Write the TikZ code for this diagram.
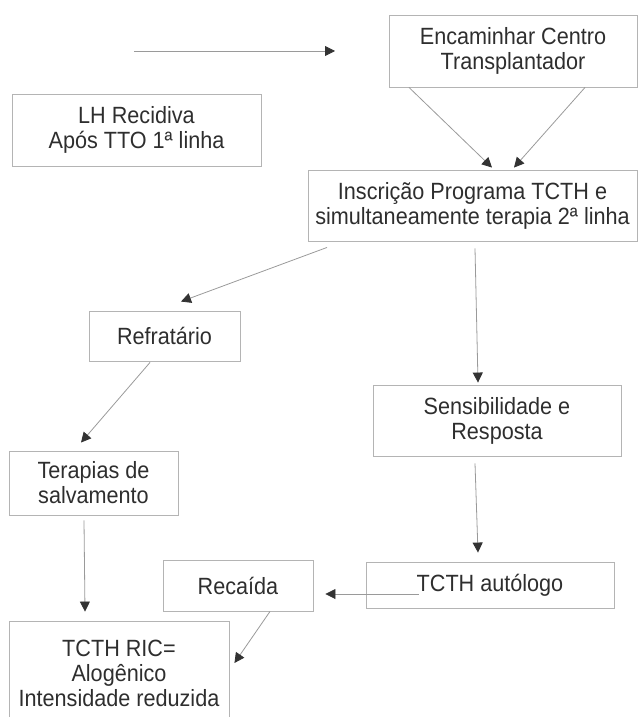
\documentclass[tikz,border=0pt]{standalone}
\usepackage{fontspec}
\setmainfont{Liberation Sans}[FakeStretch=0.92]
\usetikzlibrary{arrows.meta}
\definecolor{boxgray}{HTML}{B4B4B4}
\definecolor{linegray}{HTML}{9A9A9A}
\definecolor{tipgray}{HTML}{333333}
\definecolor{txtgray}{HTML}{2E2E2E}

\begin{document}
\begin{tikzpicture}[x=1pt,y=-1pt,
	box/.style={draw=boxgray, line width=0.9pt, align=center, inner sep=0pt, text=txtgray, font=\fontsize{23.5}{25}\selectfont},
	arr/.style={draw=linegray, line width=0.8pt, -{Triangle[length=10pt,width=10pt,color=tipgray]}}]
		\clip (0,0) rectangle (638,717);
		\node[box, minimum width=248pt, minimum height=72pt](enc) at (513,51) {Encaminhar Centro\\Transplantador};
		\node[box, minimum width=249pt, minimum height=72pt](lh) at (136.5,130) {LH Recidiva\\Após TTO 1ª linha};
		\node[box, minimum width=329pt, minimum height=71pt](insc) at (472.5,205.5) {Inscrição Programa TCTH e\\simultaneamente terapia 2ª linha};
		\node[box, minimum width=151pt, minimum height=50pt](refr) at (164.5,336) {Refratário};
		\node[box, minimum width=248pt, minimum height=71pt](sens) at (497,420.5) {Sensibilidade e\\Resposta};
		\node[box, minimum width=169pt, minimum height=64pt](terap) at (93.5,483) {Terapias de\\salvamento};
		\node[box, minimum width=150pt, minimum height=51pt](reca) at (238,585.5) {Recaída};
		\node[box, minimum width=248pt, minimum height=46pt](auto) at (490,585) {TCTH autólogo};
		\node[box, minimum width=220pt, minimum height=104pt](ric) at (119,673) {TCTH RIC=\\Alogênico\\Intensidade reduzida};
		\coordinate (s0) at (134,51);
		\coordinate (s1) at (335,51);
		\draw [arr] (s0) -- (s1);
		\draw [arr] ([shift={(-104,0)}]enc.south) -- ([shift={(19.5,-2)}]insc.north);
		\draw [arr] ([shift={(72,0)}]enc.south) -- ([shift={(41.5,-2)}]insc.north);
		\draw [arr] ([shift={(-145.5,6)}]insc.south) -- ([shift={(16.5,-9)}]refr.north);
		\draw [arr] ([shift={(2.5,7)}]insc.south) -- ([shift={(-19,-2)}]sens.north);
		\draw [arr] ([shift={(-14.5,1)}]refr.south) -- ([shift={(-12.5,-8)}]terap.north);
		\draw [arr] ([shift={(-22,7)}]sens.south) -- ([shift={(-12,-9)}]auto.north);
		\draw [arr] ([shift={(-9.5,5)}]terap.south) -- ([shift={(-34,-9)}]ric.north);
		\draw [arr] ([shift={(53,9)}]auto.west) -- ([shift={(12,8.5)}]reca.east);
		\draw [arr] ([shift={(32,0)}]reca.south) -- ([shift={(5,-10)}]ric.east);
	\end{tikzpicture}
\end{document}
